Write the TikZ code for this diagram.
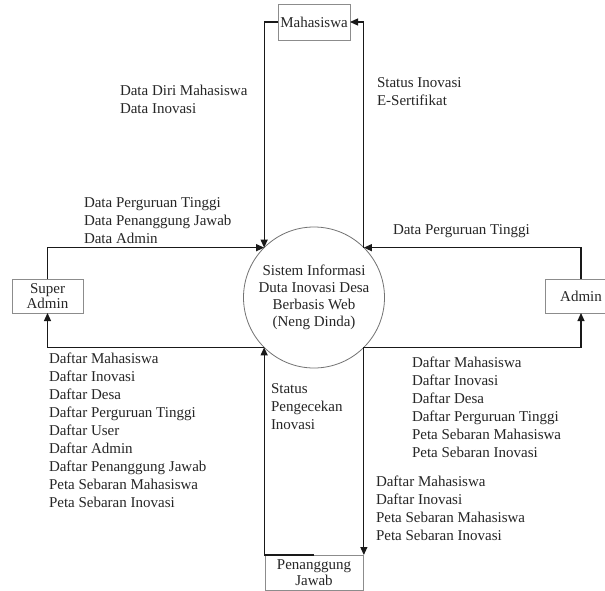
\documentclass[tikz,border=0pt]{standalone}
\usepackage{fontspec}
\setmainfont{Liberation Serif}
\usetikzlibrary{arrows.meta}
\begin{document}
\begin{tikzpicture}[x=1pt,y=-1pt,
  every node/.style={text=black!85},
  entity/.style={draw=black!45,line width=0.8pt,rectangle,inner sep=0pt,outer sep=0pt,align=center,font=\fontsize{15}{15.5}\selectfont},
  proc/.style={draw=black!55,line width=0.8pt,circle,inner sep=0pt,outer sep=0pt,minimum size=141pt,align=center,font=\fontsize{15}{17}\selectfont},
  flow/.style={draw=black!90,line width=1.1pt,-{Triangle[length=8pt,width=7pt]}},
  lbl/.style={anchor=north west,inner sep=0pt,outer sep=0pt,align=left,font=\fontsize{15}{18}\selectfont},
  lbls/.style={lbl,font=\fontsize{15}{17.6}\selectfont}]
\useasboundingbox (0,0) rectangle (605,591);
\clip (0,0) rectangle (605,591);
\fill[white] (0,0) rectangle (605,591);

% process
\node[proc] (c) at (314,297.5) {Sistem Informasi\\Duta Inovasi Desa\\Berbasis Web\\(Neng Dinda)};

% entities
\node[entity,minimum width=72pt,minimum height=36pt] (m) at (314,22) {Mahasiswa};
\node[entity,minimum width=71pt,minimum height=34pt] (sa) at (47.5,296) {Super\\Admin};
\node[entity,minimum width=72pt,minimum height=34pt] (ad) at (581,296) {Admin};
\node[entity,minimum width=98pt,minimum height=35pt] (pj) at (314,572.5) {Penanggung\\Jawab};

% flows
\draw[flow] (m.west) -| (c.135);
\draw[flow] (c.45) |- (m.east);
\draw[flow] (sa.north) |- (c.135);
\draw[flow] (ad.north) |- (c.45);
\draw[flow] (c.225) -| (sa.south);
\draw[flow] (c.315) -| (ad.south);
\draw[flow] (pj.north) -| (c.225);
\draw[flow] (c.315) -- (c.315 |- pj.north);

% labels
\node[lbls] (l1) at (120,85.5) {Data Diri Mahasiswa\\Data Inovasi};
\node[lbls] (l2) at (377,77.5) {Status Inovasi\\E-Sertifikat};
\node[lbls] (l3) at (84,198) {Data Perguruan Tinggi\\Data Penanggung Jawab\\Data Admin};
\node[lbl] (l4) at (393,224.5) {Data Perguruan Tinggi};
\node[lbl] (l5) at (49,352.5) {Daftar Mahasiswa\\Daftar Inovasi\\Daftar Desa\\Daftar Perguruan Tinggi\\Daftar User\\Daftar Admin\\Daftar Penanggung Jawab\\Peta Sebaran Mahasiswa\\Peta Sebaran Inovasi};
\node[lbl] (l6) at (412,356.5) {Daftar Mahasiswa\\Daftar Inovasi\\Daftar Desa\\Daftar Perguruan Tinggi\\Peta Sebaran Mahasiswa\\Peta Sebaran Inovasi};
\node[lbl] (l7) at (271,383.5) {Status\\Pengecekan\\Inovasi};
\node[lbl] (l8) at (376,476) {Daftar Mahasiswa\\Daftar Inovasi\\Peta Sebaran Mahasiswa\\Peta Sebaran Inovasi};
\end{tikzpicture}
\end{document}
